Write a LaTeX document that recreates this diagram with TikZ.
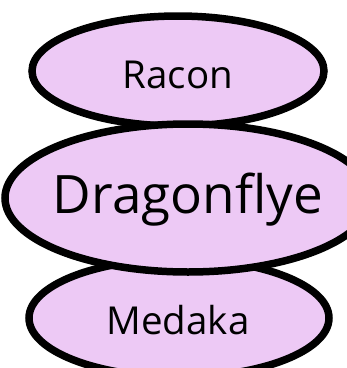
\documentclass[tikz,border=0pt]{standalone}
\usepackage{fontspec}
\setmainfont{Open Sans}
\usetikzlibrary{shapes.geometric}
\definecolor{toolfill}{RGB}{237,201,245}
\tikzset{
  tool/.style={draw=black, line width=7.5pt, fill=toolfill},
  toollabel/.style={inner sep=0pt, text=black}
}
\begin{document}
\begin{tikzpicture}[x=1pt,y=-1pt]
  \useasboundingbox (0,0) rectangle (347,368);
  \begin{scope}
    \clip (0,0) rectangle (347,368);
    % polishers behind, assembler on top
    \draw[tool] (178,71) ellipse [x radius=146, y radius=55];
    \draw[tool] (179,318) ellipse [x radius=150, y radius=59];
    \draw[tool] (188,198) ellipse [x radius=183, y radius=74];
  \end{scope}
  \node[toollabel, font=\fontsize{38.5}{42}\selectfont] (racon) at (178,75) {Racon};
  \node[toollabel, font=\fontsize{53}{58}\selectfont] (dragonflye) at (188,200) {Dragonflye};
  \node[toollabel, font=\fontsize{38.5}{42}\selectfont] (medaka) at (178,320) {Medaka};
\end{tikzpicture}
\end{document}
